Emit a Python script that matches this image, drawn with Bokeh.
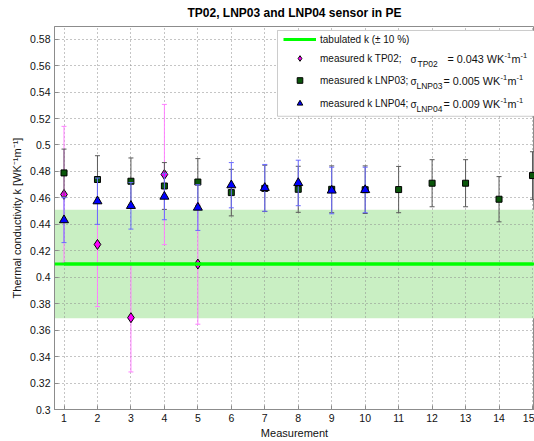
from bokeh.plotting import figure
from bokeh.models import (Range1d, FixedTicker, Span, BoxAnnotation,
                          Legend, LegendItem, Label, ColumnDataSource)
from bokeh.embed import file_html
from bokeh.resources import INLINE

# ---------------- data ----------------
title = "TP02, LNP03 and LNP04 sensor in PE"
x_label = "Measurement"
y_label = "Thermal conductivity k [WK\u207b\u00b9m\u207b\u00b9]"

tp02_x = [1, 2, 3, 4, 5]
tp02_k = [0.4626, 0.4248, 0.3694, 0.4777, 0.4100]
tp02_err = [0.0515, 0.0470, 0.0410, 0.0530, 0.0455]

lnp03_x = list(range(1, 16))
lnp03_k = [0.4789, 0.4739, 0.4726, 0.4690, 0.4720, 0.4640, 0.4672, 0.4665,
           0.4665, 0.4662, 0.4663, 0.4711, 0.4711, 0.4590, 0.4769]
lnp03_err = [0.0180, 0.0180, 0.0176, 0.0177, 0.0177, 0.0176, 0.0175, 0.0174,
             0.0177, 0.0180, 0.0175, 0.0178, 0.0178, 0.0171, 0.0180]

lnp04_x = list(range(1, 11))
lnp04_k = [0.4432, 0.4575, 0.4540, 0.4610, 0.4527, 0.4696, 0.4676, 0.4713,
           0.4656, 0.4660]
lnp04_err = [0.0170, 0.0175, 0.0176, 0.0175, 0.0173, 0.0171, 0.0177, 0.0172,
             0.0176, 0.0172]

tab_k = 0.41
tab_lo = 0.369
tab_hi = 0.451

x_ticks = list(range(1, 16))
y_ticks = [0.30, 0.32, 0.34, 0.36, 0.38, 0.40, 0.42, 0.44, 0.46, 0.48,
           0.50, 0.52, 0.54, 0.56, 0.58]
y_tick_labels = ["0.3", "0.32", "0.34", "0.36", "0.38", "0.4", "0.42", "0.44",
                 "0.46", "0.48", "0.5", "0.52", "0.54", "0.56", "0.58"]

legend_texts = ["tabulated k (\u00b1 10 %)", "measured k TP02;",
                "measured k LNP03;", "measured k LNP04;"]
sigma_subs = ["TP02", "LNP03", "LNP04"]
sigma_vals = ["= 0.043 WK", "= 0.005 WK", "= 0.009 WK"]

# ---------------- layout ----------------
W, H = 534, 441
FL, FT, FR, FB = 54, 26, 534, 410
X0, X1 = 0.716, 15.06
Y0, Y1 = 0.30, 0.5896
FONT = "Liberation Sans"


def px_x(px):
    return X0 + (px - FL) / (FR - FL) * (X1 - X0)


def px_y(py):
    return Y0 + (FB - py) / (FB - FT) * (Y1 - Y0)


p = figure(width=W, height=H, x_range=Range1d(X0, X1), y_range=Range1d(Y0, Y1),
           output_backend="svg", toolbar_location=None,
           min_border_left=FL, min_border_right=W - FR,
           min_border_top=FT, min_border_bottom=H - FB,
           background_fill_color="white", border_fill_color="white")

p.title.text = title
p.title.align = "center"
p.title.vertical_align = "top"
p.title.text_font = FONT
p.title.text_font_size = "12px"
p.title.text_font_style = "bold"
p.title.text_color = "black"
p.title.standoff = 10

p.outline_line_color = "#8c8c8c"

xax = p.below[0]
yax = p.left[0]
for ax in (xax, yax):
    ax.axis_line_color = "#8c8c8c"
    ax.major_tick_line_color = "#8c8c8c"
    ax.major_tick_in = 4
    ax.major_tick_out = 0
    ax.minor_tick_line_color = None
    ax.major_label_text_font = FONT
    ax.major_label_text_font_size = "10.5px"
    ax.major_label_text_color = "#111111"
    ax.axis_label_text_font = FONT
    ax.axis_label_text_font_size = "11px"
    ax.axis_label_text_font_style = "normal"
    ax.axis_label_text_color = "#111111"

xax.ticker = FixedTicker(ticks=x_ticks)
yax.ticker = FixedTicker(ticks=y_ticks)
yax.major_label_overrides = {t: l for t, l in zip(y_ticks, y_tick_labels)}
xax.axis_label = x_label
yax.axis_label = y_label
xax.major_label_standoff = 4
xax.axis_label_standoff = 2
yax.major_label_standoff = 4
yax.axis_label_standoff = 4

p.xgrid[0].ticker = FixedTicker(ticks=x_ticks)
p.ygrid[0].ticker = FixedTicker(ticks=y_ticks)
for g in (p.xgrid[0], p.ygrid[0]):
    g.grid_line_color = "#8a8a8a"
    g.grid_line_dash = "1 3"
    g.grid_line_width = 1

# tolerance band
band = BoxAnnotation(bottom=tab_lo, top=tab_hi, fill_color="#c9efc3", fill_alpha=1.0,
                     line_color=None, level="image")
p.add_layout(band)


def series(xs, ks, errs, bar_color, marker, size, fill):
    lo = [k - e for k, e in zip(ks, errs)]
    hi = [k + e for k, e in zip(ks, errs)]
    src = ColumnDataSource(dict(x=xs, k=ks, lo=lo, hi=hi))
    p.segment(x0="x", y0="lo", x1="x", y1="hi", source=src, line_color=bar_color,
              line_width=1)
    p.scatter(x="x", y="lo", source=src, marker="dash", size=5, line_color=bar_color,
              line_width=1)
    p.scatter(x="x", y="hi", source=src, marker="dash", size=5, line_color=bar_color,
              line_width=1)
    return p.scatter(x="x", y="k", source=src, marker=marker, size=size,
                     fill_color=fill, line_color="black", line_width=1)


r_tp02 = series(tp02_x, tp02_k, tp02_err, "#ff80ff", "diamond", 10, "#ff00ff")
r_lnp03 = series(lnp03_x, lnp03_k, lnp03_err, "#5a5a5a", "square", 6, "#0a560a")
r_lnp04 = series(lnp04_x, lnp04_k, lnp04_err, "#6a6aff", "triangle", 9, "#0000ff")

# tabulated value: line over the measurements (legend) + full-width span
r_line = p.line(x=x_ticks, y=[tab_k] * len(x_ticks), line_color="#00ff00",
                line_width=3)
p.add_layout(Span(location=tab_k, dimension="width", line_color="#00ff00",
                  line_width=3))

# legend frame
p.add_layout(BoxAnnotation(left=px_x(277), top=px_y(30), bottom=px_y(116),
                           fill_color="white", fill_alpha=1.0,
                           line_color="#555555", line_width=1))

row_cy = [40, 59, 81, 104]
renderers = [r_line, r_tp02, r_lnp03, r_lnp04]
for txt_, r, cy in zip(legend_texts, renderers, row_cy):
    leg = Legend(items=[LegendItem(label=txt_, renderers=[r])],
                 location=(283 - FL, FB - (cy + 7)),
                 padding=0, margin=0, spacing=0,
                 glyph_width=33, glyph_height=14, label_height=14,
                 label_standoff=4, border_line_alpha=0, background_fill_alpha=0,
                 label_text_font=FONT, label_text_font_size="10px",
                 label_text_color="#111111")
    p.add_layout(leg, "center")


def txt(xp, yp, s, size):
    p.add_layout(Label(x=px_x(xp), y=px_y(yp), text=s, text_baseline="middle",
                       text_font=FONT, text_font_size=size, text_color="#111111"))


sig_x = [410, 410, 410]
sub_x = [417, 416, 416]
val_x = [447, 443, 443]
for cy, sx, bx, vx, sub, val in zip(row_cy[1:], sig_x, sub_x, val_x, sigma_subs,
                                    sigma_vals):
    txt(sx, cy, "\u03c3", "10px")
    txt(bx, cy + 5, sub, "8.5px")
    txt(vx, cy, val, "10.8px")
    txt(vx + 57, cy - 4, "-1", "7.5px")
    txt(vx + 64, cy, "m", "10.8px")
    txt(vx + 73, cy - 4, "-1", "7.5px")

open("out.html", "w").write(file_html(p, INLINE))
